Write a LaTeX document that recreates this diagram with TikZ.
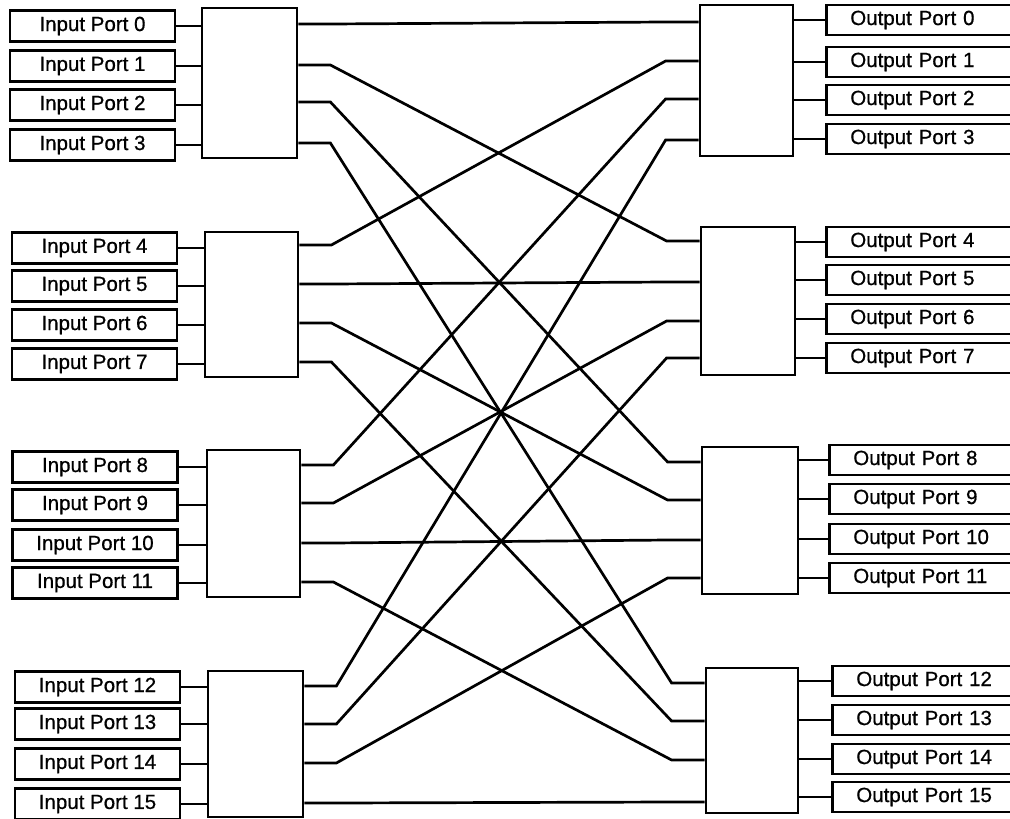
\documentclass[tikz,border=0pt]{standalone}
\usepackage{fontspec}
\setmainfont{Liberation Sans}
\newfontfamily\portfont{Liberation Sans}[FakeBold=0.7]
\usetikzlibrary{calc}
\tikzset{
  portbox/.style={draw, line width=2.6pt, minimum width=165pt, minimum height=31pt, inner sep=0pt, font=\portfont\fontsize{20.5}{24}\selectfont},
  outbox/.style={draw, line width=2.6pt, minimum height=30pt, inner ysep=0pt, inner xsep=24pt, text width=160pt, align=left, anchor=west, font=\portfont\fontsize{20.5}{24}\selectfont},
  switchbox/.style={draw, line width=2.8pt, inner sep=0pt},
  wire/.style={line width=2.7pt}
}
\begin{document}
\begin{tikzpicture}[x=1pt, y=-1pt]
\useasboundingbox (0,0) rectangle (1010,819);
\clip (0,0) rectangle (1010,819);
\fill[white] (0,0) rectangle (1010,819);
% input switches
\node[switchbox, minimum width=95pt, minimum height=150pt] (sw1) at (249.5,83) {};
\node[switchbox, minimum width=93pt, minimum height=145pt] (sw2) at (251.5,304.5) {};
\node[switchbox, minimum width=93pt, minimum height=147pt] (sw3) at (253.5,523.5) {};
\node[switchbox, minimum width=95pt, minimum height=146pt] (sw4) at (255.5,744) {};
% output switches
\node[switchbox, minimum width=93pt, minimum height=151pt] (ow1) at (746.5,80.5) {};
\node[switchbox, minimum width=94pt, minimum height=148pt] (ow2) at (748,301) {};
\node[switchbox, minimum width=96pt, minimum height=147pt] (ow3) at (750,520.5) {};
\node[switchbox, minimum width=92pt, minimum height=145pt] (ow4) at (752,740.5) {};
% input ports
\foreach \n/\x/\y in {0/92.5/26, 1/92.5/66, 2/92.5/105, 3/92.5/145,
  4/94.5/248, 5/94.5/286, 6/94.5/325, 7/94.5/364,
  8/95/467, 9/95/505, 10/95/545, 11/95/583,
  12/97.5/687, 13/97.5/724, 14/97.5/764, 15/97.5/804}{
  \node[portbox] (in\n) at (\x,\y) {Input Port \n};
  \pgfmathtruncatemacro\g{\n/4+1}
  \draw[wire] (in\n.east) -- (in\n.east -| sw\g.west);
}
% output ports
\foreach \n/\x/\y in {0/825/20, 1/825/62, 2/825/100, 3/825/139,
  4/825/242, 5/825/280, 6/825/319, 7/825/358,
  8/828/460, 9/828/499, 10/828/539, 11/828/578,
  12/831/681, 13/831/720, 14/831/759, 15/831/797}{
  \node[outbox] (out\n) at (\x,\y) {Output Port \n};
  \pgfmathtruncatemacro\g{\n/4+1}
  \draw[wire] (out\n.west -| ow\g.east) -- (out\n.west);
}
% switch terminals
\foreach \g/\ya/\yb/\yc/\yd in {1/24/65/102/143, 2/245/284/323/362, 3/465/503/543/582, 4/686/724/763/803}{
  \coordinate (L\g-1) at (sw\g.east |- 0,\ya);
  \coordinate (L\g-2) at (sw\g.east |- 0,\yb);
  \coordinate (L\g-3) at (sw\g.east |- 0,\yc);
  \coordinate (L\g-4) at (sw\g.east |- 0,\yd);
}
\foreach \g/\ya/\yb/\yc/\yd in {1/22/61/99/140, 2/241/282/321/358, 3/462/500/540/578, 4/683/721/760/802}{
  \coordinate (R\g-1) at (ow\g.west |- 0,\ya);
  \coordinate (R\g-2) at (ow\g.west |- 0,\yb);
  \coordinate (R\g-3) at (ow\g.west |- 0,\yc);
  \coordinate (R\g-4) at (ow\g.west |- 0,\yd);
}
% interconnection
\foreach \i in {1,...,4}{
  \foreach \j in {1,...,4}{
    \draw[wire] (L\i-\j) -- ++(32,0) -- ($(R\j-\i)+(-33,0)$) -- (R\j-\i);
  }
}
\end{tikzpicture}
\end{document}
